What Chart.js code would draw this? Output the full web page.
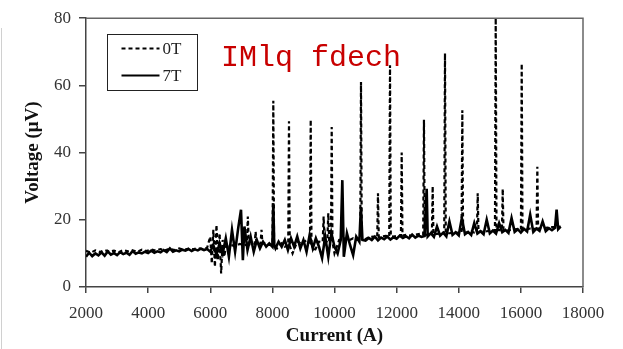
<!DOCTYPE html>
<html>
<head>
<meta charset="utf-8">
<script src="https://cdn.jsdelivr.net/npm/chart.js@4.4.0/dist/chart.umd.min.js"></script>
<style>
  html, body { margin: 0; padding: 0; background: #fff; }
  #wrap { position: relative; width: 623px; height: 349px; }
  #edge { position: absolute; left: 1px; top: 28px; width: 1px; height: 321px; background: #d0d0d0; }
  #marca { position: absolute; left: 221px; top: 43px; font-family: "Liberation Mono", monospace;
           font-size: 30px; line-height: 30px; color: #c80000; white-space: pre; }
</style>
</head>
<body>
<div id="wrap">
  <canvas id="myChart" width="623" height="349"></canvas>
  <div id="edge"></div>
  <div id="marca">IMlq fdech</div>
</div>
<script>
// 0T (dashed) - corriente y voltaje
const corriente0T = [2000,2150,2300,2450,2600,2750,2900,3050,3200,3350,3500,3650,3800,3950,4100,4250,4400,4550,4700,4850,
  5000,5150,5300,5450,5600,5750,5900,6000,6050,6100,6150,6200,6250,6300,6350,6400,6450,6500,6650,6800,6950,7100,
  7180,7210,7240,7300,7430,7460,7490,7550,7620,7650,7680,7750,7900,
  8005,8030,8055,8150,8300,8400,8510,8535,8560,8650,8800,8950,9100,9210,9234,9260,9350,9500,9620,9650,9680,9770,9800,9830,
  9885,9910,9935,10000,10150,10300,10450,10600,10700,10828,10853,10878,10950,11100,11250,11375,11400,11425,11500,11650,
  11762,11787,11812,11900,12050,12138,12163,12188,12300,12450,12600,12750,12855,12880,12905,13000,13135,13160,13185,13300,13450,
  13532,13557,13582,13700,13850,14000,14090,14115,14140,14250,14400,14500,14585,14610,14635,14750,14900,15050,
  15165,15190,15215,15300,15390,15415,15440,15550,15700,15850,16002,16027,16052,16150,16300,16400,16505,16530,16555,
  16650,16800,16950,17100,17280]
const voltaje0T = [10.8,10.2,10.9,10.4,11.0,10.5,10.8,10.3,11.0,10.6,10.9,10.5,11.1,10.7,11.2,10.8,11.3,10.9,11.4,11.0,
  11.5,11.1,11.4,11.2,11.6,11.3,11.7,15,7,17,6,18.5,8,16,4,14,9,12,12.5,12.2,12.8,12.4,
  12.6,21,12.8,12.6,12.8,16.5,12.9,12.8,12.9,17,13.0,13,12.5,
  12.6,55.4,12.4,11.5,13,12,12.5,49.3,12.2,10,13.5,12.8,14,13.2,49.8,13,10.5,13.5,13.4,21,13.5,13.6,22,13.6,
  13.5,47.6,13.4,10,14,14.5,13.8,14.5,14,14.2,61,14.3,14,14.8,15,14.8,27.9,14.9,15,15.2,
  15.0,66,15.1,15,15.3,15.2,40,15.3,15.5,15.3,15.6,15.8,15.5,49.8,15.6,15.5,15.6,30,15.7,15.8,16,
  16.0,69.5,16.0,16,16.2,16.1,16.2,52.6,16.2,16.3,16.5,16.2,16.3,27.9,16.4,16.5,16.6,16.8,
  16.8,80,16.9,17,16.9,29.2,17.0,16.8,17,17.2,17.1,66.5,17.2,17.2,17.4,17.3,17.3,35.8,17.4,
  17.5,17.6,17.8,17.8,18]

// 7T (solida)
const corriente7T = [2000,2100,2200,2300,2400,2500,2600,2700,2800,2900,3000,3100,3200,3300,3400,3500,3600,3700,3800,3900,
  4000,4100,4200,4300,4400,4500,4600,4700,4800,4900,5000,5100,5200,5300,5400,5500,5600,5700,5800,5900,
  6000,6100,6200,6300,6400,6500,6600,6700,6800,6900,6990,7050,7100,7200,7300,7400,7500,7600,7700,7800,7900,
  8000,8030,8060,8100,8200,8300,8400,8500,8600,8700,8800,8900,9000,9100,9200,9300,9400,9500,9600,9700,9800,9900,
  10000,10100,10200,10252,10300,10400,10500,10600,10700,10800,10850,10900,11000,11100,11200,11300,11400,11500,11600,11700,11800,11900,
  12000,12100,12200,12300,12400,12500,12600,12700,12800,12900,12968,13000,13100,13200,13300,13400,13500,13600,13700,13800,13900,
  14000,14100,14200,14300,14400,14500,14600,14700,14800,14900,15000,15100,15200,15300,15400,15500,15600,15700,15800,15900,
  16000,16100,16200,16300,16400,16500,16600,16700,16800,16900,17000,17100,17150,17200,17280]
const voltaje7T = [9.0,10.2,9.2,10.0,9.4,10.3,9.3,10.6,9.6,10.1,9.5,10.4,9.8,10.2,9.6,10.7,9.9,10.3,10.0,10.5,
  10.1,10.8,10.2,10.6,10.3,11.0,10.4,11.5,10.5,10.9,10.6,11.1,10.8,11.3,10.7,11.2,10.9,11.4,11.0,11.3,
  10.5,12.5,9.5,13.0,10.0,14.5,9.0,17.0,10.5,17.5,23.0,8.0,18.0,11.0,15.0,10.5,14.0,11.5,13.5,12.0,13.0,
  12.0,24.9,12.5,11.5,13.5,12.0,14.0,11.0,14.5,12.0,15.0,11.5,14.0,10.5,15.5,11.5,14.5,12.0,8.6,15.0,9.0,16.0,
  12.0,10.0,14.0,31.8,9.0,16.0,12.5,9.5,15.0,13.5,23.8,14.0,13.8,14.6,14.0,15.0,13.9,14.7,14.2,15.0,14.1,14.8,
  14.4,15.3,14.6,15.1,14.5,15.6,14.7,15.3,14.9,15.2,29.2,15.0,16.0,14.9,18.0,15.3,16.2,15.1,19.5,15.5,16.3,
  15.4,20.5,15.7,16.4,15.5,19.0,15.9,16.6,15.7,20.0,16.0,16.8,15.9,19.0,16.3,17.0,16.1,20.5,16.4,17.2,
  16.2,17.3,16.5,21.5,16.4,17.4,16.7,19.5,16.6,17.5,16.9,17.6,23.0,17.2,18.0]

const ticksX = [2000,4000,6000,8000,10000,12000,14000,16000,18000]
const ticksY = [0,20,40,60,80]

function puntos(xs, ys){
  return xs.map((x, i) => ({x: x, y: ys[i]}))
}

// marco del grafico y leyenda dentro del area
const marco = {
  id: 'marco',
  afterDraw(chart){
    const c = chart.ctx
    const a = chart.chartArea
    c.save()
    c.strokeStyle = '#666'
    c.lineWidth = 1.5
    c.beginPath()
    c.moveTo(a.left, a.top); c.lineTo(a.right, a.top); c.lineTo(a.right, a.bottom)
    c.stroke()
    // leyenda
    const bx = 107.5, by = 34.5, bw = 90, bh = 56
    c.strokeStyle = '#222'
    c.lineWidth = 1
    c.strokeRect(bx, by, bw, bh)
    c.font = '17px "Liberation Serif"'
    c.fillStyle = '#222'
    c.textBaseline = 'middle'
    chart.data.datasets.slice().reverse().forEach((ds, i) => {
      const y = by + 14 + i * 27
      c.beginPath()
      c.lineWidth = 2
      c.strokeStyle = '#000'
      c.setLineDash(ds.borderDash || [])
      c.moveTo(bx + 14, y); c.lineTo(bx + 52, y)
      c.stroke()
      c.setLineDash([])
      c.fillText(ds.label, bx + 55, y + 1)
    })
    c.restore()
  }
}

function grafico(){
  const ctx = document.getElementById('myChart')
  new Chart(ctx, {
    type: 'line',
    data: {
      datasets: [
        { label: '7T', data: puntos(corriente7T, voltaje7T), borderColor: '#000', borderWidth: 2.6,
          pointRadius: 0, tension: 0, fill: false },
        { label: '0T', data: puntos(corriente0T, voltaje0T), borderColor: '#000', borderWidth: 2.2,
          borderDash: [4, 3], pointRadius: 0, tension: 0, fill: false }
      ]
    },
    options: {
      responsive: false,
      animation: false,
      layout: { padding: { top: 16, right: 40, left: 0, bottom: 0 } },
      plugins: { legend: { display: false }, tooltip: { enabled: false } },
      scales: {
        x: {
          type: 'linear', min: 2000, max: 18000,
          afterBuildTicks: s => { s.ticks = ticksX.map(v => ({value: v})) },
          afterFit: s => { s.height = 62 },
          grid: { drawOnChartArea: false, drawTicks: true, tickLength: 6, color: '#444', lineWidth: 1.5 },
          border: { color: '#444', width: 1.5 },
          ticks: { color: '#333', font: { family: 'Liberation Serif', size: 17 }, padding: 10, maxRotation: 0,
                   callback: v => String(v) },
          title: { display: true, text: 'Current (A)', color: '#111', padding: { top: 0, bottom: 2 },
                   font: { family: 'Liberation Serif', size: 19, weight: 'bold' } }
        },
        y: {
          min: 0, max: 80,
          afterBuildTicks: s => { s.ticks = ticksY.map(v => ({value: v})) },
          afterFit: s => { s.width = 86 },
          grid: { drawOnChartArea: false, drawTicks: true, tickLength: 7, color: '#444', lineWidth: 1.5 },
          border: { color: '#444', width: 1.5 },
          ticks: { color: '#333', font: { family: 'Liberation Serif', size: 17 }, padding: 8,
                   callback: v => String(v) },
          title: { display: true, text: 'Voltage (\u03bcV)', color: '#111', padding: { top: 22, bottom: 0 },
                   font: { family: 'Liberation Serif', size: 19, weight: 'bold' } }
        }
      }
    },
    plugins: [marco]
  })
}

grafico()
</script>
</body>
</html>
